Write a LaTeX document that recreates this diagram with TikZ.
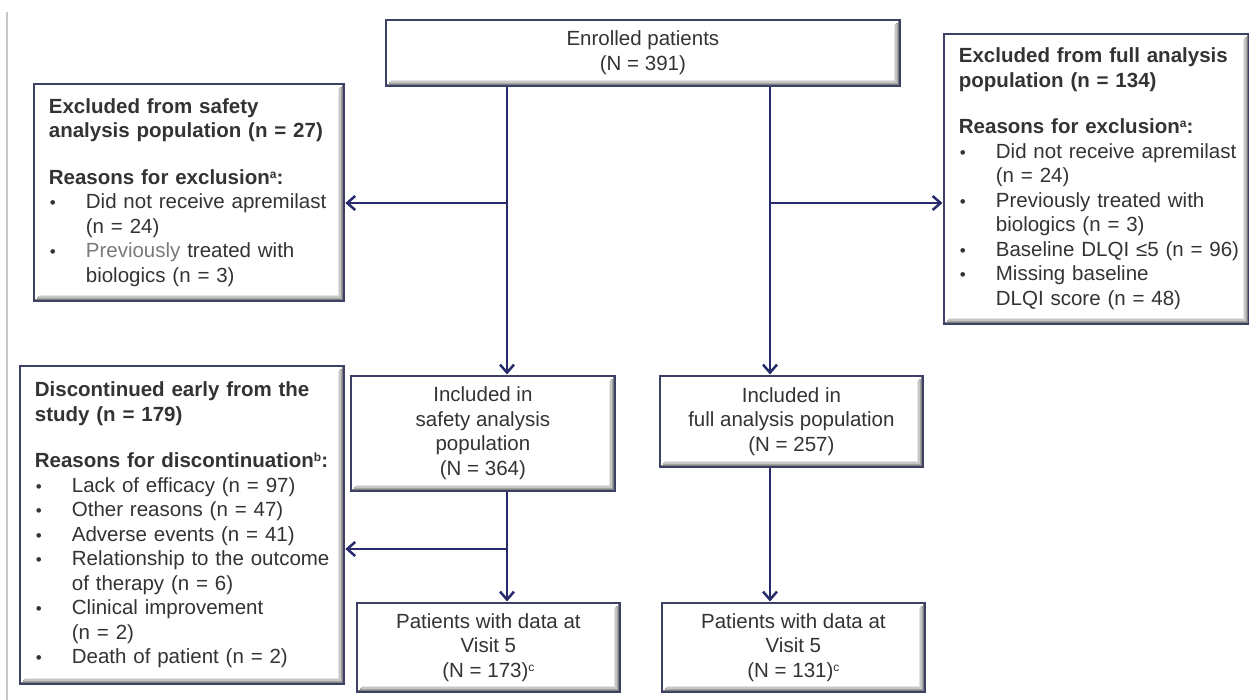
\documentclass[tikz,border=0pt]{standalone}
\usepackage{fontspec}
\setmainfont{Liberation Sans}
\usetikzlibrary{arrows.meta}
\definecolor{bord}{HTML}{3D4166}
\definecolor{arr}{HTML}{262C6B}
\definecolor{txt}{HTML}{333333}
\definecolor{lgt}{HTML}{7A7A7A}
\newcommand\itm[1]{\mbox{\makebox[37pt][l]{\hspace{1pt}{\fontsize{17}{17}\selectfont •}}#1}}
\newcommand\cnt[1]{\mbox{\hspace*{37pt}#1}}
\newcommand\sups[1]{\raisebox{6pt}{\fontsize{12}{12}\selectfont #1}}
\newcommand\bevel[1]{\foreach \bo/\bc in {2.2/50,3.6/36,5/22,6.4/10}{\draw[black!\bc,line width=1.5pt] ([shift={(\bo pt,\bo pt)}]#1.south west) -- ([shift={(-\bo pt,\bo pt)}]#1.south east) -- ([shift={(-\bo pt,-\bo pt)}]#1.north east);}}
\tikzset{
  box/.style={draw=bord, line width=1.8pt, fill=white, text=txt, font=\fontsize{20.5}{24.5}\selectfont, inner sep=0pt, anchor=north west},
  lbox/.style={box, align=left, inner xsep=15pt},
  cbox/.style={box, align=center},
  conn/.style={draw=arr, line width=2.5pt},
  arrow/.style={conn, -{Straight Barb[length=8pt,width=14pt]}, shorten >=0.5pt}
}
\begin{document}
\begin{tikzpicture}[x=1pt,y=-1pt]
\useasboundingbox[fill=white] (0,0) rectangle (1249,700);
\draw[black!22, line width=1.5pt] (7,12) -- (7,700);

\node[cbox, minimum width=514, minimum height=66] (enr) at (385,19) {Enrolled patients\\(N = 391)};

\node[lbox, minimum width=310, minimum height=217, text width=280] (exs) at (33,83) {%
\mbox{\textbf{Excluded from safety}}\\
\mbox{\textbf{analysis population (n = 27)}}\\[22pt]
\mbox{\textbf{Reasons for exclusion\sups{a}:}}\\
\itm{Did not receive apremilast}\\
\cnt{(n = 24)}\\
\itm{{\color{lgt}Previously} treated with}\\
\cnt{biologics (n = 3)}};

\node[lbox, minimum width=305, minimum height=290, text width=275] (exf) at (943,33) {%
\mbox{\textbf{Excluded from full analysis}}\\
\mbox{\textbf{population (n = 134)}}\\[22pt]
\mbox{\textbf{Reasons for exclusion\sups{a}:}}\\
\itm{Did not receive apremilast}\\
\cnt{(n = 24)}\\
\itm{Previously treated with}\\
\cnt{biologics (n = 3)}\\
\itm{Baseline DLQI ≤5 (n = 96)}\\
\itm{Missing baseline}\\
\cnt{DLQI score (n = 48)}};

\node[lbox, minimum width=324, minimum height=318, text width=294] (dis) at (19,365) {%
\mbox{\textbf{Discontinued early from the}}\\
\mbox{\textbf{study (n = 179)}}\\[22pt]
\mbox{\textbf{Reasons for discontinuation\sups{b}:}}\\
\itm{Lack of efficacy (n = 97)}\\
\itm{Other reasons (n = 47)}\\
\itm{Adverse events (n = 41)}\\
\itm{Relationship to the outcome}\\
\cnt{of therapy (n = 6)}\\
\itm{Clinical improvement}\\
\cnt{(n = 2)}\\
\itm{Death of patient (n = 2)}};

\node[cbox, minimum width=264, minimum height=115] (inS) at (350,375) {Included in\\safety analysis\\population\\(N = 364)};
\node[cbox, minimum width=263, minimum height=91] (inF) at (659,375) {Included in\\full analysis population\\(N = 257)};
\node[cbox, minimum width=263, minimum height=89] (paS) at (356,602) {Patients with data at\\Visit 5\\(N = 173)\sups{c}};
\node[cbox, minimum width=263, minimum height=89] (paF) at (661,602) {Patients with data at\\Visit 5\\(N = 131)\sups{c}};

\bevel{enr}\bevel{exs}\bevel{exf}\bevel{dis}\bevel{inS}\bevel{inF}\bevel{paS}\bevel{paF}

\coordinate (xL) at (507,0);
\coordinate (xR) at (770,0);
\coordinate (bL) at (507,203);
\coordinate (bR) at (770,203);
\coordinate (bD) at (507,549);

\draw[arrow] (enr.south -| xL) -- (inS.north -| xL);
\draw[arrow] (bL) -- (exs.east |- bL);
\draw[arrow] (enr.south -| xR) -- (inF.north -| xR);
\draw[arrow] (bR) -- (exf.west |- bR);
\draw[arrow] (inS.south -| xL) -- (paS.north -| xL);
\draw[arrow] (bD) -- (dis.east |- bD);
\draw[arrow] (inF.south -| xR) -- (paF.north -| xR);
\end{tikzpicture}
\end{document}
